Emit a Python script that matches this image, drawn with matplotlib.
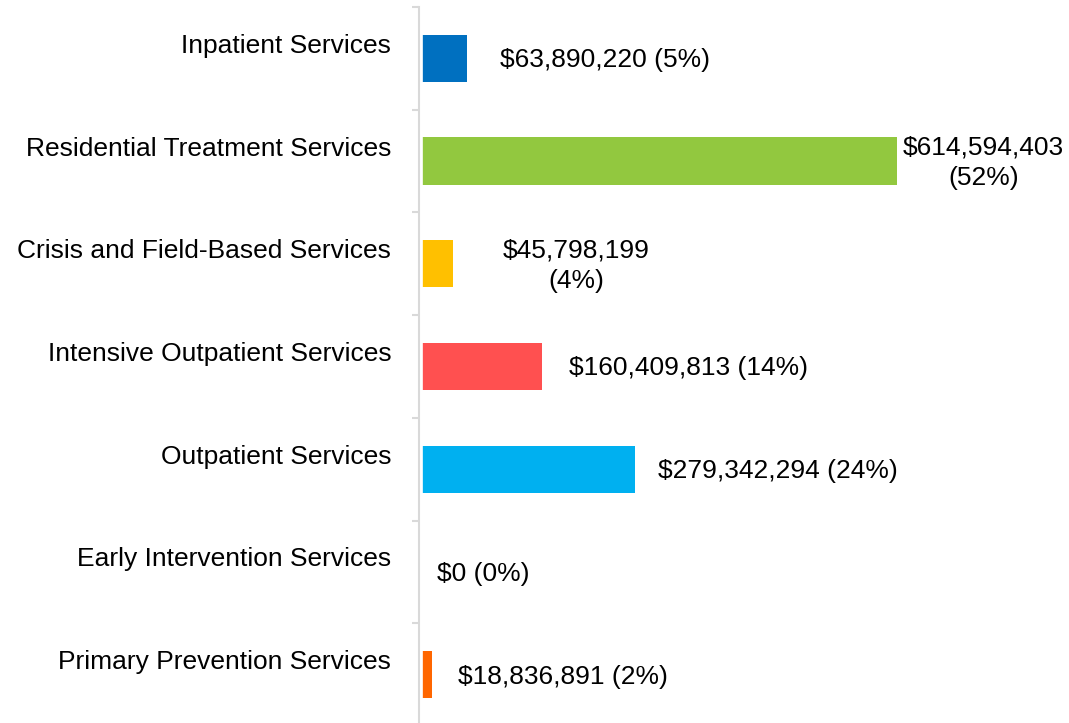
import matplotlib.pyplot as plt
from matplotlib.transforms import ScaledTranslation

categories = ["Inpatient Services", "Residential Treatment Services",
              "Crisis and Field-Based Services", "Intensive Outpatient Services",
              "Outpatient Services", "Early Intervention Services",
              "Primary Prevention Services"]
amounts = [63890220, 614594403, 45798199, 160409813, 279342294, 0, 18836891]
value_labels = ["$63,890,220 (5%)", "$614,594,403\n(52%)", "$45,798,199\n(4%)",
                "$160,409,813 (14%)", "$279,342,294 (24%)", "$0 (0%)",
                "$18,836,891 (2%)"]
colors = ["#0070C0", "#92C83F", "#FFC000", "#FF5050", "#00B0F0", "#FFFFFF", "#FF6600"]

# pixel gap between bar end and its label (labels were hand placed in the original)
label_gap = [33, 6, 50, 27, 23, 20, 26]

plt.rcParams['font.family'] = ['Liberation Sans', 'DejaVu Sans']
FS = 19

fig = plt.figure(figsize=(10.69, 7.23), dpi=100)
ax = fig.add_axes([417 / 1069, -3 / 723, 652 / 1069, 719 / 723])
ax.set_axisbelow(False)

n = len(categories)
ypos = list(range(n))
ax.barh(ypos, amounts, height=0.46, color=colors, zorder=2, linewidth=0)
ax.set_ylim(n - 0.5, -0.5)
ax.set_xlim(0, 835e6)

# white gap between axis line and the bars, like the original
gap = ScaledTranslation(2 / 100, 0, fig.dpi_scale_trans)
ax.plot([0, 0], [0, 1], color='white', lw=4.8, zorder=2.2,
        transform=ax.transAxes + gap, clip_on=False, solid_capstyle='butt')

for i, (v, lab) in enumerate(zip(amounts, value_labels)):
    off = ScaledTranslation(label_gap[i] / 100, -2 / 100, fig.dpi_scale_trans)
    ax.text(v, i, lab, ha='left', va='center', multialignment='center',
            fontsize=FS, color='black', transform=ax.transData + off,
            linespacing=1.35)

for s in ['top', 'right', 'bottom']:
    ax.spines[s].set_visible(False)
ax.spines['left'].set_color('#D9D9D9')
ax.spines['left'].set_linewidth(1.5)
ax.spines['left'].set_position(('outward', -1.44))
ax.spines['left'].set_zorder(3)
ax.set_xticks([])

ax.set_yticks(ypos)
ax.set_yticklabels(categories, fontsize=FS)
ax.tick_params(axis='y', which='major', length=0, pad=20)
up = ScaledTranslation(0, 15 / 100, fig.dpi_scale_trans)
for t in ax.get_yticklabels():
    t.set_transform(t.get_transform() + up)

ax.set_yticks([i - 0.5 for i in range(n + 1)], minor=True)
ax.tick_params(axis='y', which='minor', length=5, width=1.5, color='#D9D9D9')

fig.savefig("out.png", dpi=100)
